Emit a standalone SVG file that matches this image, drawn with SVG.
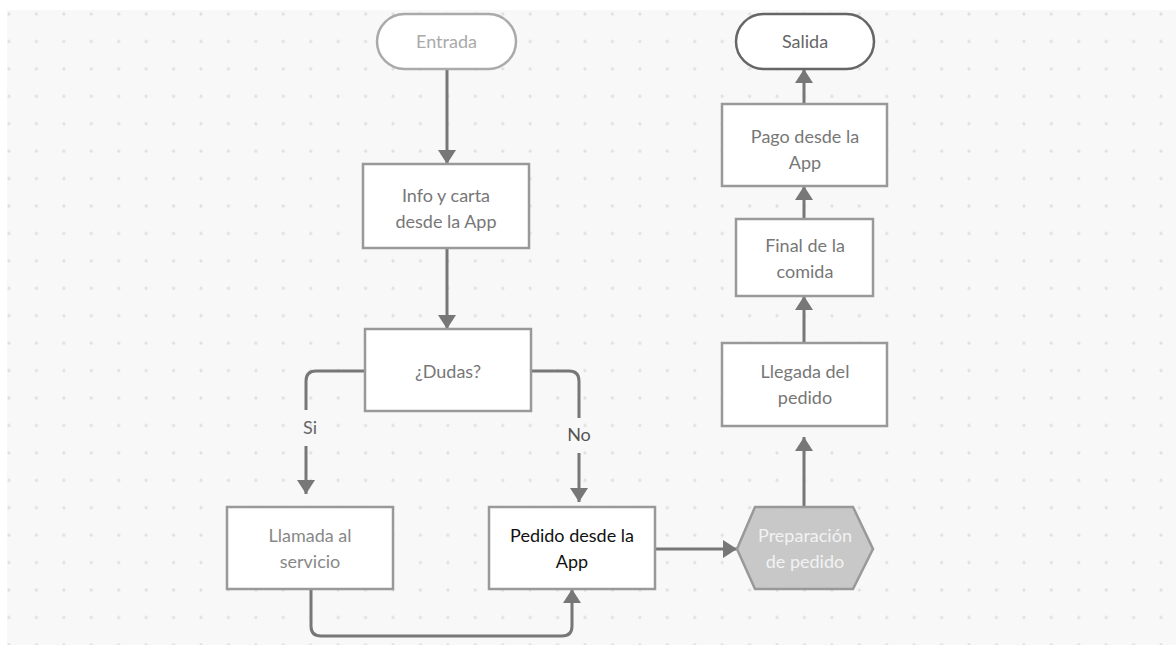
<svg xmlns="http://www.w3.org/2000/svg" width="1176" height="645" viewBox="0 0 1176 645">
<defs>
<pattern id="dots" x="9" y="14" width="27.43" height="27.43" patternUnits="userSpaceOnUse">
<circle cx="0" cy="0" r="1.6" fill="#e0e0e0"/>
<circle cx="27.43" cy="0" r="1.6" fill="#e0e0e0"/>
<circle cx="0" cy="27.43" r="1.6" fill="#e0e0e0"/>
<circle cx="27.43" cy="27.43" r="1.6" fill="#e0e0e0"/>
</pattern>
<marker id="arr" viewBox="0 0 14 18" refX="14" refY="9" markerWidth="14" markerHeight="18" markerUnits="userSpaceOnUse" orient="auto">
<path d="M0,0 L14,9 L0,18 Z" fill="#777"/>
</marker>
<style>
.box{fill:#fff;stroke:#999;stroke-width:2.5}
.conn{fill:none;stroke:#777;stroke-width:3}
.t{font-family:Lato,"Liberation Sans",sans-serif;font-size:18px;text-anchor:middle;fill:#777}
</style>
</defs>
<rect width="1176" height="645" fill="#fff"/>
<rect x="7" y="10" width="1169" height="635" fill="#f8f8f8"/>
<rect x="7" y="10" width="1169" height="635" fill="url(#dots)"/>

<g id="connectors">
<path class="conn" d="M447,69 V164" marker-end="url(#arr)"/>
<path class="conn" d="M447,248 V329" marker-end="url(#arr)"/>
<path class="conn" d="M365,371 H316 Q306,371 306,381 V410"/>
<path class="conn" d="M306,446 V494" marker-end="url(#arr)"/>
<path class="conn" d="M531,371 H569 Q579,371 579,381 V418"/>
<path class="conn" d="M579,453 V502" marker-end="url(#arr)"/>
<path class="conn" d="M311,589 V626 Q311,636 321,636 H562 Q572,636 572,626 V589" marker-end="url(#arr)"/>
<path class="conn" d="M655,549 H737" marker-end="url(#arr)"/>
<path class="conn" d="M804,507 V437" marker-end="url(#arr)"/>
<path class="conn" d="M804,343 V296" marker-end="url(#arr)"/>
<path class="conn" d="M804,219 V186" marker-end="url(#arr)"/>
<path class="conn" d="M804,104 V69" marker-end="url(#arr)"/>
<text class="t" x="310" y="434" style="fill:#666">Si</text>
<text class="t" x="579" y="441" style="fill:#555">No</text>
</g>

<g id="entrada">
<rect x="377" y="14" width="139" height="55" rx="27.5" fill="#fff" stroke="#aaa" stroke-width="2.5"/>
<text class="t" x="446.5" y="48" style="fill:#aaa">Entrada</text>
</g>
<g id="salida">
<rect x="736" y="14" width="138" height="55" rx="27.5" fill="#fff" stroke="#666" stroke-width="2.5"/>
<text class="t" x="805" y="48" style="fill:#666">Salida</text>
</g>
<g id="info">
<rect class="box" x="363" y="164" width="166" height="84"/>
<text class="t" x="446" y="202">Info y carta</text>
<text class="t" x="446" y="228">desde la App</text>
</g>
<g id="dudas">
<rect class="box" x="365" y="329" width="166" height="82"/>
<text class="t" x="448" y="378">¿Dudas?</text>
</g>
<g id="llamada">
<rect class="box" x="227" y="507" width="166" height="82"/>
<text class="t" x="310" y="542" style="fill:#888">Llamada al</text>
<text class="t" x="310" y="568" style="fill:#888">servicio</text>
</g>
<g id="pedido">
<rect class="box" x="489" y="507" width="166" height="82"/>
<text class="t" x="572" y="542" style="fill:#111">Pedido desde la</text>
<text class="t" x="572" y="568" style="fill:#111">App</text>
</g>
<g id="preparacion">
<polygon points="737,549 755,507 853,507 873,549 853,589 755,589" fill="#c8c8c8" stroke="#999" stroke-width="2.5"/>
<text class="t" x="805" y="542" style="fill:#f2f2f2">Preparación</text>
<text class="t" x="805" y="568" style="fill:#f2f2f2">de pedido</text>
</g>
<g id="llegada">
<rect class="box" x="722" y="343" width="165" height="83"/>
<text class="t" x="805" y="378">Llegada del</text>
<text class="t" x="805" y="404">pedido</text>
</g>
<g id="final">
<rect class="box" x="736" y="219" width="137" height="77"/>
<text class="t" x="805" y="252">Final de la</text>
<text class="t" x="805" y="278">comida</text>
</g>
<g id="pago">
<rect class="box" x="722" y="104" width="165" height="82"/>
<text class="t" x="805" y="143">Pago desde la</text>
<text class="t" x="805" y="169">App</text>
</g>
</svg>
